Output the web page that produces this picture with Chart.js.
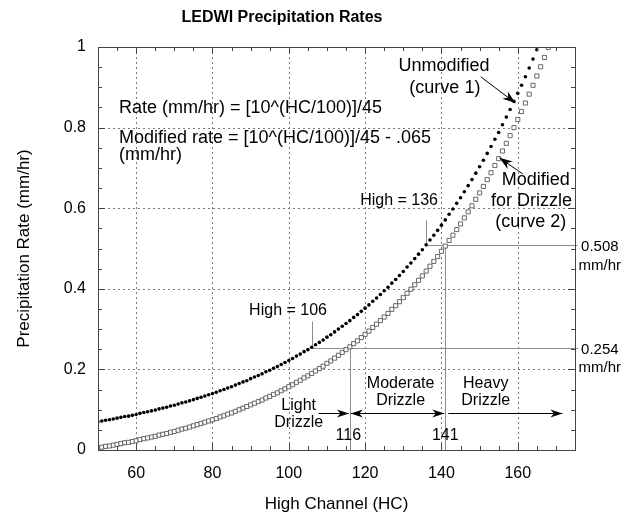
<!DOCTYPE html>
<html>
<head>
<meta charset="utf-8">
<title>LEDWI Precipitation Rates</title>
<script src="https://cdn.jsdelivr.net/npm/chart.js@4.4.1/dist/chart.umd.min.js"></script>
<style>
  html, body { margin: 0; padding: 0; background: #fff; }
  #chart { display: block; }
</style>
</head>
<body>
<canvas id="chart" width="624" height="515"></canvas>
<script>
'use strict';

// High Channel values (HC), one reading per channel
var hcValues = [
  50, 51, 52, 53, 54, 55, 56, 57, 58, 59, 60, 61, 62, 63, 64, 65, 66, 67, 68, 69,
  70, 71, 72, 73, 74, 75, 76, 77, 78, 79, 80, 81, 82, 83, 84, 85, 86, 87, 88, 89,
  90, 91, 92, 93, 94, 95, 96, 97, 98, 99, 100, 101, 102, 103, 104, 105, 106, 107, 108, 109,
  110, 111, 112, 113, 114, 115, 116, 117, 118, 119, 120, 121, 122, 123, 124, 125, 126, 127, 128, 129,
  130, 131, 132, 133, 134, 135, 136, 137, 138, 139, 140, 141, 142, 143, 144, 145, 146, 147, 148, 149,
  150, 151, 152, 153, 154, 155, 156, 157, 158, 159, 160, 161, 162, 163, 164, 165, 166, 167, 168
];

// curve 1 - unmodified rate (mm/hr), HC 50..165
var unmodifiedRate = [
  0.070, 0.072, 0.074, 0.075, 0.077, 0.079, 0.081, 0.083, 0.084, 0.086,
  0.088, 0.091, 0.093, 0.095, 0.097, 0.099, 0.102, 0.104, 0.106, 0.109,
  0.111, 0.114, 0.117, 0.119, 0.122, 0.125, 0.128, 0.131, 0.134, 0.137,
  0.140, 0.143, 0.147, 0.150, 0.154, 0.157, 0.161, 0.165, 0.169, 0.172,
  0.177, 0.181, 0.185, 0.189, 0.194, 0.198, 0.203, 0.207, 0.212, 0.217,
  0.222, 0.227, 0.233, 0.238, 0.244, 0.249, 0.255, 0.261, 0.267, 0.273,
  0.280, 0.286, 0.293, 0.300, 0.307, 0.314, 0.321, 0.329, 0.336, 0.344,
  0.352, 0.360, 0.369, 0.377, 0.386, 0.395, 0.404, 0.414, 0.423, 0.433,
  0.443, 0.454, 0.464, 0.475, 0.486, 0.497, 0.509, 0.521, 0.533, 0.545,
  0.558, 0.571, 0.585, 0.598, 0.612, 0.626, 0.641, 0.656, 0.671, 0.687,
  0.703, 0.719, 0.736, 0.753, 0.771, 0.788, 0.807, 0.826, 0.845, 0.865,
  0.885, 0.905, 0.926, 0.948, 0.970, 0.993
];

// curve 2 - modified for drizzle (mm/hr), HC 50..168
var modifiedRate = [
  0.005, 0.007, 0.009, 0.010, 0.012, 0.014, 0.016, 0.018, 0.019, 0.021,
  0.023, 0.026, 0.028, 0.030, 0.032, 0.034, 0.037, 0.039, 0.041, 0.044,
  0.046, 0.049, 0.052, 0.054, 0.057, 0.060, 0.063, 0.066, 0.069, 0.072,
  0.075, 0.078, 0.082, 0.085, 0.089, 0.092, 0.096, 0.100, 0.104, 0.108,
  0.112, 0.116, 0.120, 0.124, 0.129, 0.133, 0.138, 0.142, 0.147, 0.152,
  0.157, 0.162, 0.168, 0.173, 0.179, 0.184, 0.190, 0.196, 0.202, 0.208,
  0.215, 0.221, 0.228, 0.235, 0.242, 0.249, 0.256, 0.264, 0.271, 0.279,
  0.287, 0.295, 0.304, 0.312, 0.321, 0.330, 0.339, 0.349, 0.358, 0.368,
  0.378, 0.389, 0.399, 0.410, 0.421, 0.432, 0.444, 0.456, 0.468, 0.480,
  0.493, 0.506, 0.520, 0.533, 0.547, 0.561, 0.576, 0.591, 0.606, 0.622,
  0.638, 0.654, 0.671, 0.688, 0.706, 0.723, 0.742, 0.761, 0.780, 0.800,
  0.820, 0.840, 0.861, 0.883, 0.905, 0.928, 0.951, 0.974, 0.999
];

var xTicks = [60, 80, 100, 120, 140, 160];
var yTicks = [0, 0.2, 0.4, 0.6, 0.8, 1];

// drizzle thresholds (HC) and the matching rates (mm/hr)
var drizzleBounds = [116, 141];
var boundRates = [0.254, 0.508];
var highMarks = [106, 136];

var FONT = "'Liberation Sans', Arial, Helvetica, sans-serif";

function toPoints(xs, ys) {
  var pts = [];
  for (var i = 0; i < ys.length; i++) pts.push({ x: xs[i], y: ys[i] });
  return pts;
}

function line(ctx, x1, y1, x2, y2) {
  ctx.beginPath();
  ctx.moveTo(x1, y1);
  ctx.lineTo(x2, y2);
  ctx.stroke();
}

function arrowHead(ctx, tx, ty, fx, fy, len, half) {
  var ang = Math.atan2(ty - fy, tx - fx);
  var c = Math.cos(ang), s = Math.sin(ang);
  ctx.beginPath();
  ctx.moveTo(tx, ty);
  ctx.lineTo(tx - len * c + half * s, ty - len * s - half * c);
  ctx.lineTo(tx - len * 0.7 * c, ty - len * 0.7 * s);
  ctx.lineTo(tx - len * c - half * s, ty - len * s + half * c);
  ctx.closePath();
  ctx.fill();
}

var decorations = {
  id: 'decorations',
  beforeDatasetsDraw: function (chart) {
    var ctx = chart.ctx, a = chart.chartArea;
    var x = chart.scales.x, y = chart.scales.y;
    ctx.save();
    // dotted grid
    ctx.strokeStyle = '#7a7a7a';
    ctx.lineWidth = 1;
    ctx.setLineDash([2, 3]);
    xTicks.forEach(function (v) {
      var px = Math.round(x.getPixelForValue(v)) + 0.5;
      line(ctx, px, a.top, px, a.bottom);
    });
    yTicks.forEach(function (v) {
      if (v <= 0 || v >= 1) return;
      var py = Math.round(y.getPixelForValue(v)) + 0.5;
      line(ctx, a.left, py, a.right, py);
    });
    ctx.setLineDash([]);

    // reference lines for drizzle bounds
    ctx.strokeStyle = '#8c8c8c';
    var xr = function (v) { return Math.round(x.getPixelForValue(v)) + 0.5; };
    var yr = function (v) { return Math.round(y.getPixelForValue(v)) + 0.5; };
    line(ctx, xr(highMarks[0]), yr(boundRates[0]), a.right + 3, yr(boundRates[0]));
    line(ctx, xr(highMarks[0]), yr(boundRates[0]), xr(highMarks[0]), yr(0.32));
    line(ctx, xr(drizzleBounds[0]), yr(boundRates[0]), xr(drizzleBounds[0]), a.bottom);
    line(ctx, xr(highMarks[1]), yr(boundRates[1]), a.right + 3, yr(boundRates[1]));
    line(ctx, xr(highMarks[1]), yr(boundRates[1]), xr(highMarks[1]), yr(0.57));
    line(ctx, xr(drizzleBounds[1]), yr(boundRates[1]), xr(drizzleBounds[1]), a.bottom);
    ctx.restore();
  },
  afterDraw: function (chart) {
    var ctx = chart.ctx, a = chart.chartArea;
    var x = chart.scales.x, y = chart.scales.y;
    var X = function (v) { return x.getPixelForValue(v); };
    var Y = function (v) { return y.getPixelForValue(v); };
    ctx.save();

    // frame
    ctx.strokeStyle = '#444';
    ctx.lineWidth = 1;
    ctx.strokeRect(Math.round(a.left) + 0.5, Math.round(a.top) + 0.5,
      Math.round(a.right - a.left), Math.round(a.bottom - a.top));

    // inward ticks on all four sides
    var v, px, py, len;
    for (v = 50; v <= 175; v += 5) {
      px = Math.round(X(v)) + 0.5;
      len = xTicks.indexOf(v) >= 0 ? 7 : 4;
      line(ctx, px, a.bottom, px, a.bottom - len);
      line(ctx, px, a.top, px, a.top + len);
    }
    for (var k = 0; k <= 20; k++) {
      v = k * 0.05;
      py = Math.round(Y(v)) + 0.5;
      len = k % 4 === 0 ? 7 : 4;
      line(ctx, a.left, py, a.left + len, py);
      line(ctx, a.right, py, a.right - len, py);
    }

    // title
    ctx.fillStyle = '#000';
    ctx.textBaseline = 'middle';
    ctx.textAlign = 'center';
    ctx.font = 'bold 16px ' + FONT;
    ctx.fillText('LEDWI Precipitation Rates', 282, 18);

    // formulas
    ctx.font = '18px ' + FONT;
    ctx.textAlign = 'left';
    ctx.fillText('Rate (mm/hr) = [10^(HC/100)]/45', X(55.5), Y(0.849));
    ctx.fillText('Modified rate = [10^(HC/100)]/45 - .065', X(55.5), Y(0.774));
    ctx.fillText('(mm/hr)', X(55.5), Y(0.731));

    // curve labels
    ctx.textAlign = 'center';
    ctx.fillText('Unmodified', X(140.7), Y(0.953));
    ctx.fillText('(curve 1)', X(140.9), Y(0.898));
    ctx.fillText('Modified', X(164.7), Y(0.670));
    ctx.fillText('for Drizzle', X(163.6), Y(0.618));
    ctx.fillText('(curve 2)', X(163.4), Y(0.566));

    // pointer arrows to the curves
    ctx.strokeStyle = '#000';
    ctx.fillStyle = '#000';
    ctx.lineWidth = 1;
    var p1 = [X(150.3), Y(0.926)], t1 = [X(159.4), Y(0.861)];
    line(ctx, p1[0], p1[1], t1[0], t1[1]);
    arrowHead(ctx, t1[0], t1[1], p1[0], p1[1], 13, 4.5);
    var p2 = [X(161.3), Y(0.685)], t2 = [X(155.2), Y(0.725)];
    line(ctx, p2[0], p2[1], t2[0], t2[1]);
    arrowHead(ctx, t2[0], t2[1], p2[0], p2[1], 13, 4.5);

    // high markers
    ctx.font = '16px ' + FONT;
    ctx.fillText('High = ' + highMarks[0], X(99.8), Y(0.345));
    ctx.fillText('High = ' + highMarks[1], X(128.9), Y(0.618));

    // drizzle category labels
    ctx.fillText('Light', X(102.6), Y(0.109));
    ctx.fillText('Drizzle', X(102.6), Y(0.067));
    ctx.fillText('Moderate', X(129.3), Y(0.166));
    ctx.fillText('Drizzle', X(129.3), Y(0.122));
    ctx.fillText('Heavy', X(151.6), Y(0.166));
    ctx.fillText('Drizzle', X(151.6), Y(0.122));
    ctx.fillText(String(drizzleBounds[0]), X(115.6), Y(0.035));
    ctx.fillText(String(drizzleBounds[1]), X(141), Y(0.035));

    // rate labels outside the frame
    ctx.font = '15px ' + FONT;
    ctx.fillText(boundRates[1].toFixed(3), X(181.5), Y(0.503));
    ctx.fillText('mm/hr', X(181.5), Y(0.458));
    ctx.fillText(boundRates[0].toFixed(3), X(181.5), Y(0.249));
    ctx.fillText('mm/hr', X(181.5), Y(0.204));

    // category arrows
    var ay = Math.round(Y(0.092)) + 0.5;
    var b0 = X(drizzleBounds[0]), b1 = X(drizzleBounds[1]);
    line(ctx, X(107.8), ay, b0 - 1, ay);
    arrowHead(ctx, b0 - 1, ay, b0 - 20, ay, 12, 4);
    line(ctx, b0 + 1, ay, b1 - 1, ay);
    arrowHead(ctx, b0 + 1, ay, b0 + 20, ay, 12, 4);
    arrowHead(ctx, b1 - 1, ay, b1 - 20, ay, 12, 4);
    line(ctx, b1 + 3, ay, X(171.7), ay);
    arrowHead(ctx, X(171.7), ay, X(165), ay, 12, 4);

    ctx.restore();
  }
};

Chart.defaults.font.family = FONT;
Chart.defaults.color = '#000';

new Chart(document.getElementById('chart'), {
  type: 'scatter',
  data: {
    datasets: [
      {
        label: 'Unmodified (curve 1)',
        data: toPoints(hcValues, unmodifiedRate),
        pointStyle: 'circle',
        pointRadius: 1.8,
        pointBackgroundColor: '#000',
        pointBorderWidth: 0,
        showLine: false
      },
      {
        label: 'Modified for Drizzle (curve 2)',
        data: toPoints(hcValues, modifiedRate),
        pointStyle: 'rect',
        pointRadius: 2.9,
        pointBackgroundColor: '#fff',
        pointBorderColor: '#444',
        pointBorderWidth: 0.8,
        showLine: false
      }
    ]
  },
  options: {
    responsive: false,
    animation: false,
    devicePixelRatio: 1,
    layout: { padding: { top: 47, right: 49, bottom: 0, left: 0 } },
    plugins: {
      legend: { display: false },
      tooltip: { enabled: false },
      title: { display: false }
    },
    scales: {
      x: {
        type: 'linear',
        min: 50,
        max: 175,
        grid: { display: false, drawTicks: false },
        border: { display: false },
        afterBuildTicks: function (scale) {
          scale.ticks = xTicks.map(function (v) { return { value: v }; });
        },
        afterFit: function (scale) { scale.height = 65; },
        ticks: {
          padding: 14,
          font: { size: 16 },
          callback: function (v) { return String(v); }
        },
        title: {
          display: true,
          text: 'High Channel (HC)',
          font: { size: 17 },
          padding: { top: 0, bottom: 0 }
        }
      },
      y: {
        type: 'linear',
        min: 0,
        max: 1,
        grid: { display: false, drawTicks: false },
        border: { display: false },
        afterBuildTicks: function (scale) {
          scale.ticks = yTicks.map(function (v) { return { value: v }; });
        },
        afterFit: function (scale) { scale.width = 98; },
        ticks: {
          padding: 12,
          font: { size: 16 },
          callback: function (v) { return String(v); }
        },
        title: {
          display: true,
          text: 'Precipitation Rate (mm/hr)',
          font: { size: 17 },
          padding: { top: 14, bottom: 0 }
        }
      }
    }
  },
  plugins: [decorations]
});
</script>
</body>
</html>
